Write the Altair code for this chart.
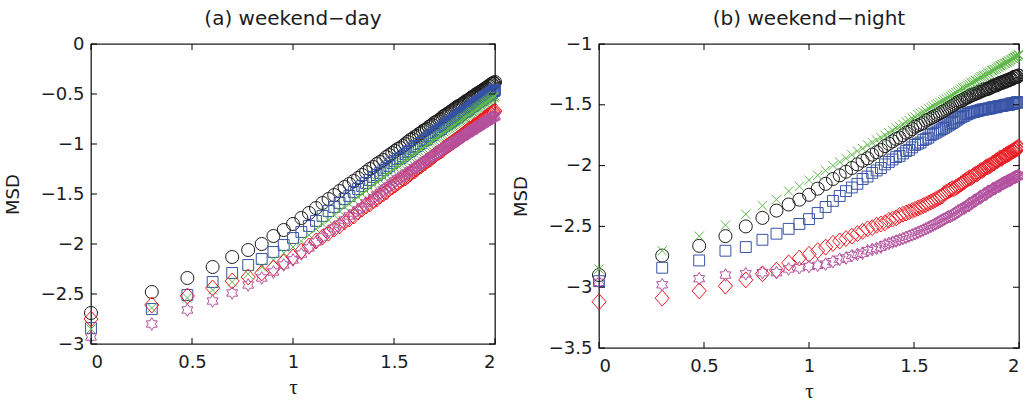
import math
import altair as alt
import pandas as pd

# ---------------- data ----------------
LAGS = list(range(1, 101))
TAU = [round(math.log10(k), 4) for k in LAGS]

DAY_BLACK = [-2.69, -2.48, -2.34, -2.23, -2.13, -2.06, -2.00, -1.92, -1.86, -1.80,
             -1.74, -1.69, -1.64, -1.59, -1.55, -1.51, -1.47, -1.43, -1.40, -1.37,
             -1.34, -1.31, -1.28, -1.25, -1.23, -1.20, -1.18, -1.16, -1.13, -1.11,
             -1.09, -1.07, -1.05, -1.04, -1.02, -1.00, -0.98, -0.96, -0.95, -0.93,
             -0.92, -0.90, -0.89, -0.87, -0.86, -0.85, -0.83, -0.82, -0.81, -0.79,
             -0.78, -0.77, -0.76, -0.75, -0.73, -0.72, -0.71, -0.70, -0.69, -0.68,
             -0.67, -0.66, -0.65, -0.64, -0.63, -0.62, -0.62, -0.61, -0.60, -0.59,
             -0.58, -0.57, -0.57, -0.56, -0.55, -0.54, -0.53, -0.53, -0.52, -0.51,
             -0.50, -0.50, -0.49, -0.48, -0.48, -0.47, -0.46, -0.46, -0.45, -0.44,
             -0.44, -0.43, -0.42, -0.42, -0.41, -0.40, -0.40, -0.39, -0.39, -0.38]
DAY_BLUE = [-2.84, -2.65, -2.51, -2.38, -2.29, -2.21, -2.15, -2.08, -2.01, -1.94,
            -1.88, -1.82, -1.77, -1.72, -1.67, -1.63, -1.59, -1.55, -1.52, -1.48,
            -1.45, -1.42, -1.39, -1.36, -1.33, -1.31, -1.29, -1.26, -1.24, -1.22,
            -1.19, -1.17, -1.15, -1.14, -1.12, -1.10, -1.08, -1.07, -1.05, -1.03,
            -1.02, -1.00, -0.99, -0.97, -0.96, -0.95, -0.93, -0.92, -0.91, -0.89,
            -0.88, -0.87, -0.86, -0.85, -0.83, -0.82, -0.81, -0.80, -0.79, -0.78,
            -0.77, -0.76, -0.75, -0.74, -0.73, -0.72, -0.71, -0.70, -0.69, -0.68,
            -0.68, -0.67, -0.66, -0.65, -0.64, -0.63, -0.62, -0.62, -0.61, -0.60,
            -0.59, -0.58, -0.58, -0.57, -0.56, -0.56, -0.55, -0.54, -0.53, -0.53,
            -0.52, -0.51, -0.51, -0.50, -0.49, -0.49, -0.48, -0.47, -0.47, -0.46]
DAY_GREEN = [-2.85, -2.64, -2.54, -2.46, -2.38, -2.30, -2.23, -2.16, -2.09, -2.03,
             -1.97, -1.91, -1.85, -1.80, -1.76, -1.71, -1.67, -1.63, -1.60, -1.56,
             -1.53, -1.50, -1.47, -1.44, -1.41, -1.38, -1.36, -1.33, -1.31, -1.29,
             -1.26, -1.24, -1.22, -1.20, -1.19, -1.17, -1.15, -1.13, -1.12, -1.10,
             -1.08, -1.07, -1.05, -1.04, -1.02, -1.01, -0.99, -0.98, -0.97, -0.96,
             -0.94, -0.93, -0.92, -0.91, -0.90, -0.88, -0.87, -0.86, -0.85, -0.84,
             -0.83, -0.82, -0.81, -0.80, -0.79, -0.78, -0.77, -0.76, -0.75, -0.74,
             -0.74, -0.73, -0.72, -0.71, -0.70, -0.69, -0.68, -0.68, -0.67, -0.66,
             -0.65, -0.64, -0.64, -0.63, -0.62, -0.62, -0.61, -0.60, -0.59, -0.59,
             -0.58, -0.57, -0.57, -0.56, -0.55, -0.55, -0.54, -0.53, -0.53, -0.52]
DAY_RED = [-2.75, -2.61, -2.52, -2.44, -2.37, -2.33, -2.29, -2.24, -2.18, -2.13,
           -2.07, -2.02, -1.97, -1.93, -1.89, -1.85, -1.82, -1.78, -1.75, -1.72,
           -1.68, -1.65, -1.62, -1.60, -1.57, -1.55, -1.52, -1.50, -1.48, -1.45,
           -1.43, -1.41, -1.39, -1.37, -1.35, -1.34, -1.32, -1.30, -1.28, -1.27,
           -1.25, -1.23, -1.22, -1.20, -1.19, -1.17, -1.16, -1.15, -1.13, -1.12,
           -1.10, -1.09, -1.08, -1.07, -1.06, -1.04, -1.03, -1.02, -1.01, -1.00,
           -0.99, -0.98, -0.97, -0.96, -0.95, -0.94, -0.93, -0.92, -0.91, -0.90,
           -0.89, -0.88, -0.87, -0.86, -0.85, -0.85, -0.84, -0.83, -0.82, -0.81,
           -0.81, -0.80, -0.79, -0.78, -0.77, -0.77, -0.76, -0.75, -0.74, -0.74,
           -0.73, -0.72, -0.72, -0.71, -0.70, -0.70, -0.69, -0.68, -0.68, -0.67]
DAY_MAGENTA = [-2.93, -2.80, -2.66, -2.57, -2.49, -2.41, -2.34, -2.28, -2.21, -2.16,
               -2.10, -2.04, -1.98, -1.93, -1.88, -1.84, -1.80, -1.76, -1.72, -1.69,
               -1.66, -1.63, -1.59, -1.57, -1.54, -1.51, -1.49, -1.46, -1.44, -1.42,
               -1.39, -1.37, -1.35, -1.34, -1.32, -1.30, -1.29, -1.27, -1.26, -1.24,
               -1.23, -1.21, -1.20, -1.19, -1.17, -1.16, -1.15, -1.13, -1.12, -1.11,
               -1.10, -1.09, -1.07, -1.06, -1.05, -1.04, -1.03, -1.02, -1.01, -1.00,
               -1.00, -0.99, -0.98, -0.97, -0.96, -0.95, -0.94, -0.93, -0.93, -0.92,
               -0.91, -0.90, -0.89, -0.89, -0.88, -0.87, -0.87, -0.86, -0.85, -0.84,
               -0.84, -0.83, -0.82, -0.82, -0.81, -0.80, -0.80, -0.79, -0.78, -0.78,
               -0.77, -0.77, -0.76, -0.75, -0.75, -0.74, -0.74, -0.73, -0.73, -0.72]

NIGHT_BLACK = [-2.90, -2.74, -2.66, -2.58, -2.50, -2.43, -2.37, -2.32, -2.28, -2.24,
               -2.19, -2.15, -2.11, -2.08, -2.05, -2.02, -1.99, -1.96, -1.94, -1.91,
               -1.89, -1.87, -1.84, -1.82, -1.80, -1.78, -1.77, -1.75, -1.73, -1.72,
               -1.70, -1.68, -1.67, -1.66, -1.65, -1.63, -1.62, -1.61, -1.60, -1.59,
               -1.58, -1.57, -1.56, -1.55, -1.54, -1.53, -1.52, -1.51, -1.50, -1.49,
               -1.48, -1.47, -1.47, -1.46, -1.45, -1.44, -1.44, -1.43, -1.42, -1.42,
               -1.41, -1.41, -1.40, -1.40, -1.39, -1.39, -1.38, -1.38, -1.37, -1.37,
               -1.37, -1.36, -1.36, -1.35, -1.35, -1.34, -1.34, -1.34, -1.33, -1.33,
               -1.32, -1.32, -1.32, -1.31, -1.31, -1.31, -1.30, -1.30, -1.30, -1.29,
               -1.29, -1.29, -1.28, -1.28, -1.27, -1.27, -1.27, -1.27, -1.26, -1.26]
NIGHT_BLUE = [-2.95, -2.84, -2.78, -2.70, -2.67, -2.61, -2.56, -2.52, -2.48, -2.44,
              -2.39, -2.34, -2.29, -2.25, -2.21, -2.18, -2.15, -2.11, -2.09, -2.06,
              -2.04, -2.02, -1.99, -1.97, -1.95, -1.93, -1.92, -1.90, -1.88, -1.87,
              -1.85, -1.83, -1.82, -1.81, -1.79, -1.78, -1.77, -1.75, -1.74, -1.73,
              -1.72, -1.71, -1.70, -1.69, -1.68, -1.67, -1.66, -1.65, -1.64, -1.63,
              -1.62, -1.61, -1.60, -1.595, -1.59, -1.58, -1.575, -1.57, -1.565, -1.56,
              -1.56, -1.555, -1.55, -1.55, -1.545, -1.54, -1.54, -1.54, -1.535, -1.535,
              -1.53, -1.53, -1.53, -1.525, -1.52, -1.52, -1.52, -1.52, -1.515, -1.51,
              -1.51, -1.51, -1.51, -1.505, -1.505, -1.50, -1.50, -1.50, -1.50, -1.50,
              -1.49, -1.49, -1.49, -1.49, -1.49, -1.485, -1.48, -1.48, -1.48, -1.48]
NIGHT_GREEN = [-2.85, -2.70, -2.58, -2.49, -2.40, -2.33, -2.28, -2.21, -2.17, -2.12,
               -2.08, -2.04, -2.00, -1.97, -1.94, -1.91, -1.88, -1.86, -1.83, -1.81,
               -1.79, -1.77, -1.75, -1.73, -1.71, -1.69, -1.68, -1.66, -1.64, -1.63,
               -1.61, -1.60, -1.58, -1.57, -1.56, -1.55, -1.53, -1.52, -1.51, -1.50,
               -1.49, -1.48, -1.47, -1.46, -1.45, -1.44, -1.43, -1.42, -1.41, -1.40,
               -1.39, -1.38, -1.37, -1.36, -1.36, -1.35, -1.34, -1.33, -1.32, -1.32,
               -1.31, -1.30, -1.30, -1.29, -1.28, -1.27, -1.27, -1.26, -1.26, -1.25,
               -1.24, -1.24, -1.23, -1.22, -1.22, -1.21, -1.21, -1.20, -1.19, -1.19,
               -1.18, -1.18, -1.17, -1.17, -1.16, -1.16, -1.15, -1.15, -1.14, -1.14,
               -1.13, -1.13, -1.12, -1.12, -1.11, -1.11, -1.10, -1.10, -1.09, -1.09]
NIGHT_RED = [-3.12, -3.09, -3.03, -2.99, -2.94, -2.89, -2.86, -2.80, -2.76, -2.73,
             -2.70, -2.67, -2.64, -2.62, -2.60, -2.58, -2.56, -2.54, -2.52, -2.51,
             -2.49, -2.48, -2.47, -2.45, -2.44, -2.43, -2.41, -2.40, -2.39, -2.38,
             -2.37, -2.36, -2.35, -2.34, -2.33, -2.32, -2.31, -2.30, -2.29, -2.28,
             -2.27, -2.26, -2.25, -2.23, -2.22, -2.21, -2.20, -2.19, -2.19, -2.18,
             -2.17, -2.16, -2.15, -2.14, -2.13, -2.12, -2.11, -2.10, -2.10, -2.09,
             -2.08, -2.07, -2.07, -2.06, -2.05, -2.04, -2.04, -2.03, -2.02, -2.01,
             -2.01, -2.00, -2.00, -1.99, -1.98, -1.98, -1.97, -1.96, -1.96, -1.95,
             -1.94, -1.94, -1.94, -1.93, -1.92, -1.92, -1.91, -1.91, -1.90, -1.90,
             -1.89, -1.89, -1.88, -1.88, -1.87, -1.87, -1.86, -1.86, -1.85, -1.85]
NIGHT_MAGENTA = [-2.96, -2.98, -2.93, -2.90, -2.89, -2.88, -2.88, -2.85, -2.84, -2.83,
                 -2.82, -2.81, -2.79, -2.77, -2.76, -2.74, -2.73, -2.72, -2.70, -2.69,
                 -2.68, -2.67, -2.65, -2.64, -2.63, -2.62, -2.61, -2.60, -2.59, -2.58,
                 -2.57, -2.56, -2.55, -2.54, -2.53, -2.52, -2.51, -2.50, -2.49, -2.48,
                 -2.47, -2.46, -2.45, -2.44, -2.43, -2.42, -2.42, -2.41, -2.40, -2.39,
                 -2.38, -2.37, -2.36, -2.35, -2.35, -2.34, -2.33, -2.32, -2.31, -2.30,
                 -2.29, -2.29, -2.28, -2.27, -2.26, -2.26, -2.25, -2.24, -2.23, -2.23,
                 -2.22, -2.21, -2.21, -2.20, -2.19, -2.19, -2.19, -2.18, -2.17, -2.17,
                 -2.16, -2.16, -2.15, -2.15, -2.14, -2.14, -2.13, -2.13, -2.12, -2.12,
                 -2.12, -2.11, -2.11, -2.10, -2.10, -2.09, -2.09, -2.09, -2.08, -2.08]

X_TICKS = [0, 0.5, 1, 1.5, 2]
DAY_Y_TICKS = [-3, -2.5, -2, -1.5, -1, -0.5, 0]
NIGHT_Y_TICKS = [-3.5, -3, -2.5, -2, -1.5, -1]

# ---------------- styling ----------------
COLORS = ["#1c1c1c", "#3753a6", "#5db948", "#ec1c24", "#b3519f"]
STAR = ("M0,-1L0.289,-0.5L0.866,-0.5L0.577,0L0.866,0.5L0.289,0.5L0,1L-0.289,0.5"
        "L-0.866,0.5L-0.577,0L-0.866,-0.5L-0.289,-0.5Z")
XMARK = "M-1,-1L1,1M-1,1L1,-1"
DIAMOND = "M0,-1L0.88,0L0,1L-0.88,0Z"
SHAPES = ["circle", "square", XMARK, DIAMOND, STAR]
SIZES = [170, 118, 85, 256, 160]
FONT = "DejaVu Sans"


def panel(cols, title, ydom, yticks, w, h):
    xs = alt.Scale(domain=[0, 2], nice=False, zero=False)
    ys = alt.Scale(domain=ydom, nice=False, zero=False)
    xax = alt.Axis(values=X_TICKS, format="~g", title="τ",
                   titleFont="Liberation Serif", titleFontSize=21,
                   titlePadding=5, labelPadding=9)
    yax = alt.Axis(values=yticks, format=".1~f", title="MSD",
                   titlePadding=18, labelPadding=7)
    X = alt.X("tau:Q", scale=xs, axis=xax, title="τ")
    Y = alt.Y("msd:Q", scale=ys, axis=yax, title="MSD")
    layers = []
    for vals, col, shp, sz in zip(cols, COLORS, SHAPES, SIZES):
        df = pd.DataFrame({"tau": TAU, "msd": vals})
        layers.append(
            alt.Chart(df).mark_point(filled=False, strokeWidth=1, opacity=1,
                                     color=col, shape=shp, size=sz).encode(x=X, y=Y)
        )
    xt = pd.DataFrame({"tau": X_TICKS})
    yt = pd.DataFrame({"msd": yticks})
    tk = dict(color="black", strokeWidth=1)
    layers.append(alt.Chart(xt).mark_rule(**tk).encode(x=X, y=alt.value(h), y2=alt.value(h - 6)))
    layers.append(alt.Chart(xt).mark_rule(**tk).encode(x=X, y=alt.value(0), y2=alt.value(6)))
    layers.append(alt.Chart(yt).mark_rule(**tk).encode(y=Y, x=alt.value(0), x2=alt.value(6)))
    layers.append(alt.Chart(yt).mark_rule(**tk).encode(y=Y, x=alt.value(w - 6), x2=alt.value(w)))
    return alt.layer(*layers).properties(
        width=w, height=h,
        title=alt.TitleParams(title, fontSize=20, font=FONT, fontWeight="normal",
                              color="#1c1c1c", offset=6),
    )


left = panel([DAY_BLACK, DAY_BLUE, DAY_GREEN, DAY_RED, DAY_MAGENTA],
             "(a) weekend−day", [-3, 0], DAY_Y_TICKS, 404, 300)
right = panel([NIGHT_BLACK, NIGHT_BLUE, NIGHT_GREEN, NIGHT_RED, NIGHT_MAGENTA],
              "(b) weekend−night", [-3.5, -1], NIGHT_Y_TICKS, 420, 304)

chart = alt.hconcat(left, right, spacing=6).configure(
    padding={"left": 3, "top": 8, "right": -6, "bottom": 0},
).configure_view(
    stroke="#1c1c1c", strokeWidth=1.3
).configure_axis(
    grid=False, domain=False, ticks=False, tickSize=0,
    labelFont=FONT, labelFontSize=18, labelColor="#1c1c1c",
    titleFont=FONT, titleFontSize=18, titleFontWeight="normal", titleColor="#1c1c1c",
).configure_title(anchor="middle")

chart.save("out.html", embed_options={"renderer": "svg", "actions": False})
